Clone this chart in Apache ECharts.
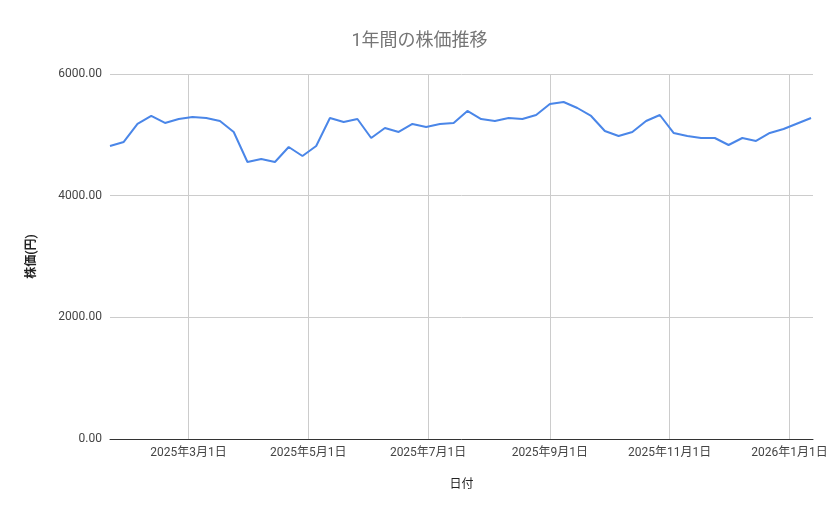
<!DOCTYPE html>
<html><head><meta charset="utf-8">
<script src="https://cdn.jsdelivr.net/npm/echarts@6/dist/echarts.min.js"></script>
<style>html,body{margin:0;padding:0;background:#fff}#c{width:839px;height:519px}</style>
</head><body><div id="c"></div>
<script>
const dates = ['2025-01-20','2025-01-27','2025-02-03','2025-02-10','2025-02-17','2025-02-24','2025-03-03','2025-03-10','2025-03-17','2025-03-24','2025-03-31','2025-04-07','2025-04-14','2025-04-21','2025-04-28','2025-05-05','2025-05-12','2025-05-19','2025-05-26','2025-06-02','2025-06-09','2025-06-16','2025-06-23','2025-06-30','2025-07-07','2025-07-14','2025-07-21','2025-07-28','2025-08-04','2025-08-11','2025-08-18','2025-08-25','2025-09-01','2025-09-08','2025-09-15','2025-09-22','2025-09-29','2025-10-06','2025-10-13','2025-10-20','2025-10-27','2025-11-03','2025-11-10','2025-11-17','2025-11-24','2025-12-01','2025-12-08','2025-12-15','2025-12-22','2025-12-29','2026-01-12'];
const prices = [4817,4883,5179,5310,5195,5260,5293,5277,5228,5047,4554,4603,4554,4800,4652,4817,5277,5211,5260,4948,5113,5047,5179,5130,5179,5195,5392,5260,5228,5277,5260,5326,5507,5540,5441,5310,5063,4981,5047,5228,5326,5031,4981,4948,4948,4833,4948,4899,5031,5096,5277,5146];
const tickDates = ['2025-03-01','2025-05-01','2025-07-01','2025-09-01','2025-11-01','2026-01-01'];
const yTicks = [0,2000,4000,6000];
const ts = d => new Date(d+'T00:00:00').getTime();
const tickVals = tickDates.map(ts);
const chart = echarts.init(document.getElementById('c'));
const font = 'Roboto, "Noto Sans CJK JP", sans-serif';
chart.setOption({
  animation:false,
  title:{text:'1年間の株価推移',left:'center',top:28,textStyle:{fontFamily:font,fontSize:18,fontWeight:'normal',color:'#757575'}},
  grid:{left:110,right:26,top:74,bottom:80},
  xAxis:{type:'value',min:ts(dates[0]),max:ts('2026-01-13'),
    name:'日付',nameLocation:'middle',nameGap:40,nameTextStyle:{fontFamily:font,fontSize:12,color:'#222'},
    axisLine:{lineStyle:{color:'#333'}},axisTick:{show:false,customValues:tickVals},
    axisLabel:{customValues:tickVals,fontFamily:font,fontSize:12,color:'#444',formatter:v=>{const d=new Date(v);return d.getFullYear()+'年'+(d.getMonth()+1)+'月'+d.getDate()+'日';}},
    splitLine:{show:true,lineStyle:{color:'#ccc'}}},
  yAxis:{type:'value',min:0,max:6000,interval:2000,
    name:'株価(円)',nameLocation:'middle',nameGap:72,nameTextStyle:{fontFamily:font,fontSize:12,color:'#222',fontWeight:'bold'},
    axisLine:{show:false},axisTick:{show:false},
    axisLabel:{fontFamily:font,fontSize:12,color:'#444',formatter:v=>v.toFixed(2)},
    splitLine:{lineStyle:{color:'#ccc'}}},
  series:[{type:'line',data:dates.map((d,i)=>[ts(d),prices[i]]),showSymbol:false,lineStyle:{color:'#4a86e8',width:2},itemStyle:{color:'#4a86e8'}}]
});
</script></body></html>
